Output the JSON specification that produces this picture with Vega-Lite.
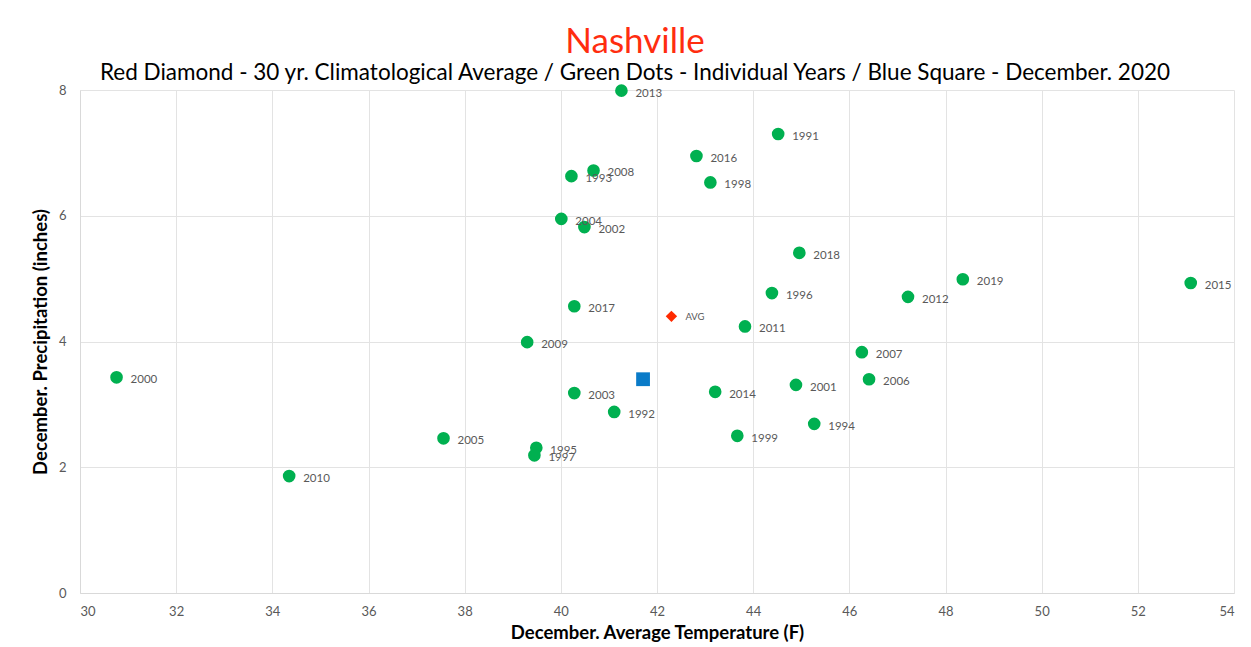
{
  "$schema": "https://vega.github.io/schema/vega-lite/v6.json",
  "width": 1154,
  "height": 503,
  "autosize": "none",
  "padding": {"left": 80, "top": 90, "right": 17, "bottom": 54},
  "background": "white",
  "title": {
    "text": "Nashville",
    "subtitle": "Red Diamond - 30 yr. Climatological Average / Green Dots - Individual Years / Blue Square - December. 2020",
    "color": "#FF2D0F",
    "font": "Lato",
    "fontSize": 35,
    "fontWeight": "normal",
    "subtitleFont": "Lato",
    "subtitleFontSize": 22.5,
    "subtitleColor": "#000000",
    "subtitlePadding": 2,
    "anchor": "middle",
    "offset": 0,
    "dx": -22
  },
  "config": {
    "view": {"stroke": null},
    "axis": {
      "grid": true,
      "gridColor": "#e3e3e3",
      "ticks": false,
      "domainColor": "#d9d9d9",
      "labelColor": "#595959",
      "labelFont": "Lato",
      "labelFontSize": 13,
      "titleFont": "Lato",
      "titleFontSize": 18.5,
      "titleFontWeight": "bold",
      "titleColor": "#000000"
    }
  },
  "data": {
    "values": [
      {"label": "1991", "type": "year", "temp": 44.52, "precip": 7.30},
      {"label": "1992", "type": "year", "temp": 41.11, "precip": 2.88},
      {"label": "1993", "type": "year", "temp": 40.22, "precip": 6.63},
      {"label": "1994", "type": "year", "temp": 45.27, "precip": 2.69},
      {"label": "1995", "type": "year", "temp": 39.49, "precip": 2.31},
      {"label": "1996", "type": "year", "temp": 44.39, "precip": 4.77},
      {"label": "1997", "type": "year", "temp": 39.45, "precip": 2.19},
      {"label": "1998", "type": "year", "temp": 43.11, "precip": 6.53},
      {"label": "1999", "type": "year", "temp": 43.67, "precip": 2.50},
      {"label": "2000", "type": "year", "temp": 30.76, "precip": 3.43},
      {"label": "2001", "type": "year", "temp": 44.89, "precip": 3.31},
      {"label": "2002", "type": "year", "temp": 40.49, "precip": 5.82},
      {"label": "2003", "type": "year", "temp": 40.28, "precip": 3.18},
      {"label": "2004", "type": "year", "temp": 40.01, "precip": 5.95},
      {"label": "2005", "type": "year", "temp": 37.56, "precip": 2.46},
      {"label": "2006", "type": "year", "temp": 46.41, "precip": 3.40},
      {"label": "2007", "type": "year", "temp": 46.26, "precip": 3.83},
      {"label": "2008", "type": "year", "temp": 40.68, "precip": 6.72},
      {"label": "2009", "type": "year", "temp": 39.30, "precip": 3.99},
      {"label": "2010", "type": "year", "temp": 34.35, "precip": 1.86},
      {"label": "2011", "type": "year", "temp": 43.83, "precip": 4.24},
      {"label": "2012", "type": "year", "temp": 47.22, "precip": 4.71},
      {"label": "2013", "type": "year", "temp": 41.26, "precip": 7.99},
      {"label": "2014", "type": "year", "temp": 43.21, "precip": 3.20},
      {"label": "2015", "type": "year", "temp": 53.10, "precip": 4.93},
      {"label": "2016", "type": "year", "temp": 42.82, "precip": 6.95},
      {"label": "2017", "type": "year", "temp": 40.28, "precip": 4.56},
      {"label": "2018", "type": "year", "temp": 44.96, "precip": 5.41},
      {"label": "2019", "type": "year", "temp": 48.36, "precip": 4.99},
      {"label": "AVG", "type": "avg", "temp": 42.30, "precip": 4.40},
      {"label": "2020", "type": "current", "temp": 41.71, "precip": 3.40}
    ]
  },
  "encoding": {
    "x": {
      "field": "temp",
      "type": "quantitative",
      "scale": {"domain": [30, 54], "nice": false, "zero": false},
      "axis": {"values": [30, 32, 34, 36, 38, 40, 42, 44, 46, 48, 50, 52, 54], "labelPadding": 12, "title": "December. Average Temperature (F)", "titlePadding": 5}
    },
    "y": {
      "field": "precip",
      "type": "quantitative",
      "scale": {"domain": [0, 8], "nice": false},
      "axis": {"values": [0, 2, 4, 6, 8], "labelPadding": 14, "title": "December. Precipitation (inches)", "titlePadding": 8}
    }
  },
  "layer": [
    {
      "transform": [{"filter": "datum.type === 'year'"}],
      "mark": {"type": "point", "shape": "circle", "filled": true, "opacity": 1, "color": "#00B050", "size": 160}
    },
    {
      "transform": [{"filter": "datum.type === 'year'"}],
      "mark": {"type": "text", "align": "left", "baseline": "middle", "dx": 14, "dy": 3, "font": "Lato", "fontSize": 11.5, "color": "#595959"},
      "encoding": {"text": {"field": "label"}}
    },
    {
      "transform": [{"filter": "datum.type === 'avg'"}],
      "mark": {"type": "point", "shape": "diamond", "filled": true, "opacity": 1, "color": "#FF2A00", "size": 130}
    },
    {
      "transform": [{"filter": "datum.type === 'avg'"}],
      "mark": {"type": "text", "align": "left", "baseline": "middle", "dx": 14, "dy": 1, "font": "Lato", "fontSize": 9.5, "color": "#595959"},
      "encoding": {"text": {"field": "label"}}
    },
    {
      "transform": [{"filter": "datum.type === 'current'"}],
      "mark": {"type": "point", "shape": "square", "filled": true, "opacity": 1, "color": "#0A7BC8", "size": 190}
    }
  ]
}
